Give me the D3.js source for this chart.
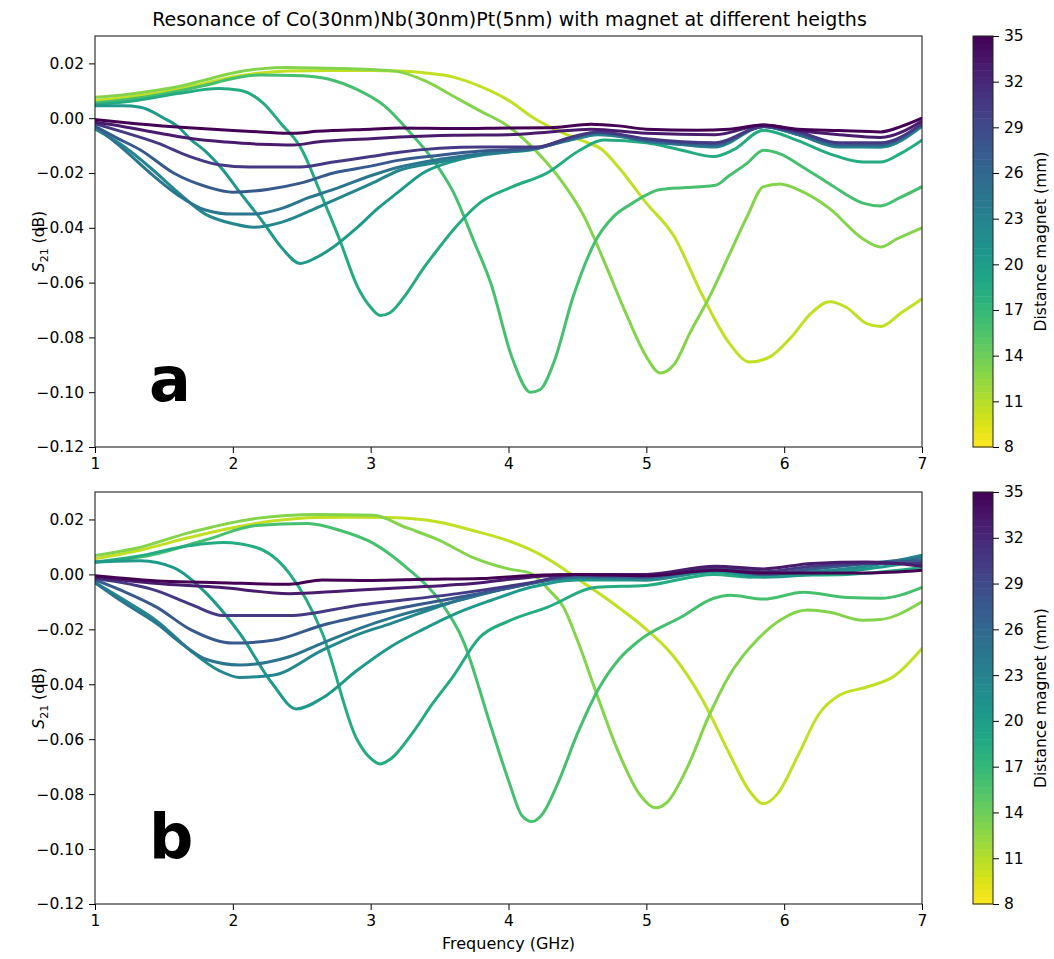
<!DOCTYPE html>
<html>
<head>
<meta charset="utf-8">
<script src="https://cdn.jsdelivr.net/npm/d3@7"></script>
<style>
  body { margin: 0; background: #fff; }
  svg text { font-family: "DejaVu Sans", sans-serif; fill: #000; }
</style>
</head>
<body>
<svg id="chart" width="1054" height="959"></svg>
<script>
// tick values
var freqTicks = [1, 2, 3, 4, 5, 6, 7];
var s21Ticks = [0.02, 0.00, -0.02, -0.04, -0.06, -0.08, -0.10, -0.12];
var cbTicks = [8, 11, 14, 17, 20, 23, 26, 29, 32, 35];

// magnet distance (mm) for each curve, same order in both panels
var distances = [10.5, 13, 16, 18.5, 20.5, 22.5, 24.5, 27.5, 30.5, 33, 35];

// panel a : [frequency GHz, S21 dB]
var aY = [[1.0,0.0065],[1.2,0.0075],[1.4,0.0088],[1.6,0.0105],[1.8,0.0128],[2.0,0.015],[2.2,0.0165],[2.4,0.0172],[2.7,0.0174],[3.0,0.0174],[3.2,0.0172],[3.4,0.0165],[3.6,0.015],[3.8,0.0115],[4.0,0.0065],[4.2,-0.0005],[4.4,-0.0055],[4.55,-0.0085],[4.68,-0.0115],[4.8,-0.018],[5.0,-0.031],[5.2,-0.043],[5.4,-0.064],[5.6,-0.082],[5.75,-0.089],[5.9,-0.087],[6.05,-0.080],[6.2,-0.071],[6.33,-0.067],[6.45,-0.069],[6.6,-0.075],[6.7,-0.076],[6.85,-0.071],[7.0,-0.066]];
var aL = [[1.0,0.0076],[1.2,0.0085],[1.4,0.0098],[1.6,0.0115],[1.8,0.014],[2.0,0.0165],[2.2,0.018],[2.4,0.0185],[2.7,0.0182],[3.0,0.0178],[3.2,0.017],[3.4,0.0135],[3.6,0.008],[3.8,0.0025],[4.0,-0.003],[4.2,-0.012],[4.4,-0.024],[4.55,-0.036],[4.7,-0.053],[4.85,-0.071],[5.0,-0.087],[5.1,-0.093],[5.2,-0.090],[5.32,-0.078],[5.46,-0.065],[5.6,-0.050],[5.73,-0.036],[5.85,-0.025],[5.97,-0.024],[6.14,-0.027],[6.33,-0.033],[6.57,-0.044],[6.7,-0.047],[6.82,-0.044],[7.0,-0.040]];
var aG = [[1.0,0.0055],[1.4,0.008],[1.8,0.012],[2.0,0.0145],[2.2,0.0158],[2.5,0.0155],[2.7,0.0142],[2.9,0.0105],[3.1,0.0045],[3.3,-0.006],[3.45,-0.015],[3.6,-0.027],[3.75,-0.045],[3.87,-0.060],[4.03,-0.088],[4.16,-0.100],[4.23,-0.099],[4.33,-0.089],[4.47,-0.065],[4.64,-0.044],[4.76,-0.036],[4.9,-0.031],[5.1,-0.026],[5.5,-0.0245],[5.6,-0.021],[5.73,-0.0165],[5.85,-0.0117],[5.97,-0.013],[6.14,-0.018],[6.33,-0.024],[6.57,-0.031],[6.7,-0.032],[6.84,-0.029],[7.0,-0.025]];
var aTG = [[1.0,0.005],[1.3,0.0065],[1.6,0.009],[1.9,0.0108],[2.05,0.0102],[2.22,0.0055],[2.35,-0.002],[2.49,-0.0105],[2.65,-0.029],[2.78,-0.045],[2.9,-0.061],[3.0,-0.069],[3.07,-0.072],[3.14,-0.071],[3.26,-0.064],[3.38,-0.055],[3.5,-0.047],[3.63,-0.039],[3.79,-0.031],[4.03,-0.025],[4.28,-0.020],[4.52,-0.0116],[4.69,-0.008],[5.0,-0.009],[5.25,-0.0116],[5.49,-0.014],[5.63,-0.0116],[5.85,-0.0044],[6.09,-0.008],[6.33,-0.013],[6.57,-0.016],[6.7,-0.016],[6.84,-0.013],[7.0,-0.008]];
var aT = [[1.0,0.0045],[1.2,0.0045],[1.33,0.004],[1.5,0.0],[1.6,-0.003],[1.7,-0.008],[1.8,-0.012],[1.93,-0.019],[2.05,-0.027],[2.22,-0.038],[2.35,-0.047],[2.49,-0.053],[2.6,-0.051],[2.73,-0.047],[2.9,-0.040],[3.05,-0.033],[3.2,-0.027],[3.38,-0.020],[3.63,-0.0153],[3.87,-0.0127],[4.16,-0.0116],[4.4,-0.008],[4.64,-0.0055],[5.0,-0.008],[5.5,-0.010],[5.85,-0.003],[6.1,-0.006],[6.4,-0.010],[6.7,-0.0105],[7.0,-0.003]];
var aTB = [[1.0,-0.004],[1.2,-0.010],[1.4,-0.018],[1.6,-0.027],[1.8,-0.035],[2.0,-0.0385],[2.15,-0.0398],[2.35,-0.038],[2.55,-0.034],[2.73,-0.030],[3.0,-0.024],[3.21,-0.019],[3.5,-0.016],[3.8,-0.0135],[4.2,-0.011],[4.45,-0.008],[4.65,-0.006],[5.0,-0.008],[5.5,-0.0105],[5.85,-0.003],[6.1,-0.006],[6.4,-0.0105],[6.7,-0.0105],[7.0,-0.0025]];
var aBT = [[1.0,-0.003],[1.2,-0.011],[1.4,-0.020],[1.6,-0.028],[1.8,-0.0335],[2.0,-0.035],[2.15,-0.035],[2.35,-0.033],[2.55,-0.029],[2.73,-0.026],[3.0,-0.021],[3.21,-0.0178],[3.5,-0.015],[3.8,-0.013],[4.2,-0.011],[4.45,-0.0075],[4.65,-0.0055],[5.0,-0.0085],[5.5,-0.010],[5.85,-0.003],[6.1,-0.006],[6.4,-0.010],[6.7,-0.010],[7.0,-0.0025]];
var aB = [[1.0,-0.003],[1.15,-0.007],[1.33,-0.0116],[1.57,-0.020],[1.81,-0.025],[2.0,-0.027],[2.25,-0.026],[2.49,-0.0237],[2.73,-0.020],[3.0,-0.0175],[3.21,-0.0153],[3.5,-0.0135],[3.8,-0.012],[4.2,-0.011],[4.45,-0.0075],[4.65,-0.005],[5.0,-0.008],[5.5,-0.0095],[5.85,-0.003],[6.1,-0.0055],[6.4,-0.0095],[6.7,-0.0095],[7.0,-0.002]];
var aI = [[1.0,-0.002],[1.2,-0.005],[1.45,-0.009],[1.69,-0.014],[1.9,-0.017],[2.12,-0.0178],[2.49,-0.0178],[2.73,-0.016],[3.0,-0.014],[3.21,-0.0124],[3.5,-0.011],[3.8,-0.0105],[4.2,-0.0105],[4.45,-0.007],[4.65,-0.005],[5.0,-0.0075],[5.5,-0.009],[5.85,-0.003],[6.1,-0.005],[6.4,-0.009],[6.7,-0.009],[7.0,-0.002]];
var aP = [[1.0,-0.0015],[1.2,-0.003],[1.47,-0.0055],[1.75,-0.0078],[1.95,-0.0087],[2.2,-0.0095],[2.44,-0.0098],[2.61,-0.0087],[3.0,-0.0075],[3.21,-0.0069],[3.6,-0.0062],[4.0,-0.006],[4.3,-0.005],[4.6,-0.004],[5.0,-0.0055],[5.5,-0.006],[5.85,-0.0025],[6.1,-0.0045],[6.4,-0.006],[6.7,-0.007],[7.0,-0.001]];
var aDP = [[1.0,-0.0005],[1.3,-0.002],[1.71,-0.0036],[2.0,-0.0045],[2.2,-0.005],[2.44,-0.0055],[2.61,-0.0048],[3.0,-0.004],[3.21,-0.0036],[3.6,-0.0038],[4.0,-0.0036],[4.3,-0.0035],[4.6,-0.0022],[4.8,-0.0028],[5.0,-0.004],[5.37,-0.0044],[5.6,-0.004],[5.85,-0.0025],[6.1,-0.004],[6.4,-0.0045],[6.7,-0.005],[6.85,-0.003],[7.0,0.0]];

// panel b
var bY = [[1.0,0.0057],[1.3,0.0085],[1.69,0.0135],[2.0,0.017],[2.3,0.0195],[2.61,0.0207],[2.9,0.0208],[3.14,0.0207],[3.5,0.019],[3.74,0.016],[3.99,0.0124],[4.2,0.008],[4.4,0.002],[4.52,-0.0022],[4.76,-0.0106],[5.0,-0.020],[5.2,-0.030],[5.4,-0.045],[5.6,-0.065],[5.75,-0.079],[5.85,-0.0835],[5.95,-0.080],[6.1,-0.066],[6.25,-0.051],[6.4,-0.044],[6.6,-0.041],[6.8,-0.037],[7.0,-0.027]];
var bL = [[1.0,0.0069],[1.3,0.0095],[1.69,0.0153],[2.17,0.0204],[2.61,0.0218],[3.02,0.0215],[3.26,0.017],[3.5,0.0124],[3.74,0.0062],[4.0,0.002],[4.16,0.0004],[4.3,-0.006],[4.4,-0.012],[4.5,-0.024],[4.65,-0.045],[4.8,-0.065],[4.95,-0.080],[5.07,-0.085],[5.15,-0.083],[5.3,-0.070],[5.45,-0.052],[5.6,-0.037],[5.8,-0.024],[5.97,-0.0167],[6.17,-0.013],[6.33,-0.0138],[6.57,-0.0167],[6.7,-0.0164],[7.0,-0.010]];
var bG = [[1.0,0.0044],[1.4,0.007],[1.8,0.0125],[2.17,0.0178],[2.54,0.0185],[2.78,0.016],[3.02,0.0113],[3.26,0.0025],[3.5,-0.0095],[3.67,-0.024],[3.87,-0.055],[4.0,-0.075],[4.1,-0.088],[4.17,-0.090],[4.25,-0.087],[4.35,-0.077],[4.5,-0.058],[4.65,-0.042],[4.8,-0.031],[4.95,-0.024],[5.25,-0.0156],[5.49,-0.0087],[5.61,-0.0076],[5.85,-0.009],[6.14,-0.0065],[6.46,-0.0084],[6.7,-0.0087],[7.0,-0.0047]];
var bTG = [[1.0,0.0045],[1.3,0.0065],[1.69,0.0105],[1.93,0.0116],[2.17,0.0098],[2.41,0.0004],[2.65,-0.0215],[2.9,-0.060],[3.0,-0.067],[3.07,-0.069],[3.15,-0.067],[3.3,-0.058],[3.45,-0.047],[3.6,-0.037],[3.79,-0.023],[4.0,-0.017],[4.28,-0.012],[4.64,-0.0047],[5.0,-0.004],[5.49,0.0],[5.75,-0.001],[5.97,-0.0004],[6.46,0.0],[7.0,0.0025]];
var bT = [[1.0,0.0045],[1.33,0.005],[1.57,0.0025],[1.81,-0.007],[2.05,-0.0215],[2.29,-0.040],[2.46,-0.049],[2.65,-0.045],[2.9,-0.035],[3.14,-0.0265],[3.38,-0.020],[3.63,-0.014],[3.87,-0.0095],[4.16,-0.0047],[4.5,-0.002],[5.0,-0.002],[5.5,0.001],[5.85,-0.001],[6.2,0.0],[6.6,0.002],[7.0,0.005]];
var bTB = [[1.0,-0.003],[1.2,-0.009],[1.45,-0.017],[1.69,-0.0276],[1.9,-0.035],[2.05,-0.0375],[2.29,-0.0367],[2.65,-0.0276],[2.9,-0.022],[3.14,-0.018],[3.63,-0.0095],[4.16,-0.0033],[4.5,-0.001],[5.0,-0.002],[5.5,0.0015],[5.85,0.0],[6.2,0.001],[6.6,0.003],[7.0,0.007]];
var bBT = [[1.0,-0.003],[1.2,-0.010],[1.45,-0.018],[1.65,-0.026],[1.81,-0.031],[2.05,-0.033],[2.25,-0.032],[2.41,-0.030],[2.65,-0.025],[2.9,-0.020],[3.2,-0.015],[3.6,-0.010],[4.0,-0.005],[4.5,-0.001],[5.0,-0.001],[5.5,0.002],[5.85,0.0],[6.2,0.002],[6.6,0.004],[7.0,0.006]];
var bB = [[1.0,-0.002],[1.2,-0.006],[1.45,-0.012],[1.69,-0.020],[2.0,-0.025],[2.29,-0.024],[2.65,-0.0185],[3.14,-0.013],[3.63,-0.0084],[4.0,-0.005],[4.5,-0.0005],[5.0,-0.001],[5.5,0.002],[5.85,0.0],[6.2,0.002],[6.6,0.004],[7.0,0.005]];
var bI = [[1.0,-0.0015],[1.45,-0.006],[1.7,-0.011],[1.93,-0.015],[2.41,-0.015],[2.9,-0.0113],[3.63,-0.007],[4.16,-0.003],[4.5,0.0],[5.0,-0.0005],[5.5,0.0025],[5.85,0.001],[6.2,0.003],[6.6,0.004],[7.0,0.004]];
var bP = [[1.0,-0.001],[1.5,-0.0035],[1.9,-0.0047],[2.41,-0.007],[2.8,-0.006],[3.3,-0.0047],[3.8,-0.003],[4.16,-0.001],[4.5,0.0],[5.0,0.0],[5.5,0.003],[5.85,0.002],[6.2,0.004],[6.6,0.0045],[7.0,0.003]];
var bDP = [[1.0,-0.0005],[1.5,-0.0025],[1.9,-0.003],[2.41,-0.0036],[2.65,-0.002],[3.0,-0.0022],[3.4,-0.0018],[3.8,-0.0015],[4.16,-0.0004],[4.5,0.0],[5.0,-0.0005],[5.5,0.0015],[5.85,0.0005],[6.2,0.0005],[6.6,0.0005],[7.0,0.0015]];

var panelA = [aY, aL, aG, aTG, aT, aTB, aBT, aB, aI, aP, aDP];
var panelB = [bY, bL, bG, bTG, bT, bTB, bBT, bB, bI, bP, bDP];

var svg = d3.select("#chart");
var left = 95, right = 922;
var fs = 15.5;

var color = d => d3.interpolateViridis((35 - d) / 27);
var fmt = d3.format(".2f");

svg.append("text")
    .attr("x", (left + right) / 2 + 1).attr("y", 26)
    .attr("text-anchor", "middle")
    .style("font-size", "19px")
    .text("Resonance of Co(30nm)Nb(30nm)Pt(5nm) with magnet at different heigths");

function drawPanel(top, bottom, curves, letter, xlabel) {
    var x = d3.scaleLinear().domain([1, 7]).range([left, right]);
    var y = d3.scaleLinear().domain([-0.12, 0.03]).range([bottom, top]);
    var g = svg.append("g");

    var clipId = "clip-" + letter;
    g.append("clipPath").attr("id", clipId)
        .append("rect").attr("x", left).attr("y", top)
        .attr("width", right - left).attr("height", bottom - top);

    var line = d3.line()
        .x(d => x(d[0]))
        .y(d => y(d[1]))
        .curve(d3.curveMonotoneX);

    g.append("g").attr("clip-path", "url(#" + clipId + ")")
        .selectAll("path")
        .data(curves)
        .enter().append("path")
        .attr("d", line)
        .attr("fill", "none")
        .attr("stroke", (d, i) => color(distances[i]))
        .attr("stroke-width", 3)
        .attr("stroke-linejoin", "round")
        .attr("stroke-linecap", "round");

    // axes
    var xAxis = d3.axisBottom(x).tickValues(freqTicks).tickSize(6).tickPadding(5).tickFormat(d3.format("d"));
    var yAxis = d3.axisLeft(y).tickValues(s21Ticks).tickSize(6).tickPadding(5).tickFormat(fmt);
    var gx = g.append("g").attr("transform", "translate(0," + bottom + ")").call(xAxis);
    var gy = g.append("g").attr("transform", "translate(" + left + ",0)").call(yAxis);
    [gx, gy].forEach(function(a) {
        a.select(".domain").remove();
        a.selectAll("line").attr("stroke", "#000").attr("stroke-width", 1);
        a.selectAll("text").style("font-size", fs + "px").attr("fill", "#000");
    });

    g.append("rect")
        .attr("x", left).attr("y", top)
        .attr("width", right - left).attr("height", bottom - top)
        .attr("fill", "none").attr("stroke", "#222").attr("stroke-width", 1.1);

    // y label
    var yl = g.append("text")
        .attr("transform", "translate(44," + (top + bottom) / 2 + ") rotate(-90)")
        .attr("text-anchor", "middle")
        .style("font-size", fs + "px");
    yl.append("tspan").style("font-style", "italic").text("S");
    yl.append("tspan").attr("dy", 4).style("font-size", "11px").text("21");
    yl.append("tspan").attr("dy", -4).text(" (dB)");

    if (xlabel) {
        g.append("text")
            .attr("x", (left + right) / 2).attr("y", bottom + 45)
            .attr("text-anchor", "middle")
            .style("font-size", "16px")
            .text(xlabel);
    }

    g.append("text")
        .attr("x", 149).attr("y", top + (bottom - top) * 0.888)
        .style("font-size", "62px").style("font-weight", "bold")
        .text(letter);

    // colorbar
    var cbL = 973, cbW = 20;
    var cy = d3.scaleLinear().domain([8, 35]).range([bottom, top]);
    var n = 60;
    var step = 27 / n;
    var bands = d3.range(n).map(i => 8 + i * step);
    g.selectAll(".band").data(bands).enter().append("rect")
        .attr("x", cbL).attr("width", cbW)
        .attr("y", d => cy(d + step))
        .attr("height", d => cy(d) - cy(d + step) + 0.5)
        .attr("fill", d => color(d + step / 2));
    g.append("rect").attr("x", cbL).attr("y", top).attr("width", cbW).attr("height", bottom - top)
        .attr("fill", "none").attr("stroke", "#222").attr("stroke-width", 1);
    var cbAxis = d3.axisRight(cy).tickValues(cbTicks).tickSize(6).tickPadding(5);
    var gc = g.append("g").attr("transform", "translate(" + (cbL + cbW) + ",0)").call(cbAxis);
    gc.select(".domain").remove();
    gc.selectAll("line").attr("stroke", "#000");
    gc.selectAll("text").style("font-size", fs + "px").attr("fill", "#000");

    g.append("text")
        .attr("transform", "translate(1046," + (top + bottom) / 2 + ") rotate(-90)")
        .attr("text-anchor", "middle")
        .style("font-size", fs + "px")
        .text("Distance magnet (mm)");
}

drawPanel(36, 447, panelA, "a", null);
drawPanel(492, 904, panelB, "b", "Frequency (GHz)");
</script>
</body>
</html>
